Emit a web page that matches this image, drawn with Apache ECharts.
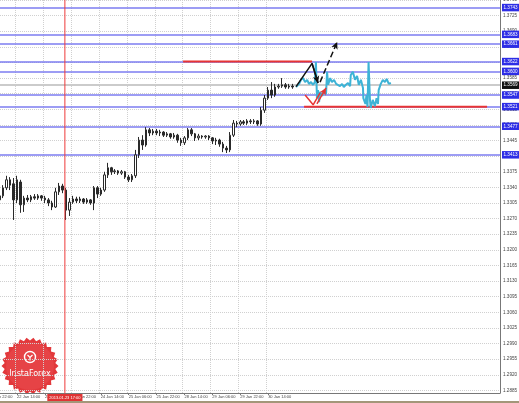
<!DOCTYPE html>
<html><head><meta charset="utf-8">
<script src="https://cdn.jsdelivr.net/npm/echarts@6/dist/echarts.min.js"></script>
<style>html,body{margin:0;padding:0;background:#fff;}#c{width:519px;height:403px;}</style>
</head><body><div id="c"></div>
<script>
// ---- data ----
const slotCount = 148;               // 2-hour slots on the time axis
const timeLabels = ['21 Jan 22:00','22 Jan 14:00','23 Jan 06:00','23 Jan 22:00','24 Jan 14:00','25 Jan 06:00','25 Jan 22:00','28 Jan 14:00','29 Jan 06:00','29 Jan 22:00','30 Jan 14:00'];
const firstLabelSlot = 1, labelEvery = 8;
const candleStartSlot = 4;
// [open, close, low, high]
const ohlc = [
[1.3312,1.3321,1.3305,1.3330],[1.3321,1.3339,1.3316,1.3345],[1.3339,1.3357,1.3334,1.3366],[1.3357,1.3345,1.3334,1.3363],
[1.3348,1.3312,1.3267,1.3361],[1.3312,1.3357,1.3305,1.3366],[1.3352,1.3301,1.3283,1.3357],[1.3301,1.3316,1.3285,1.3321],
[1.3316,1.3312,1.3307,1.3323],[1.3312,1.3319,1.3307,1.3323],[1.3319,1.3316,1.3312,1.3325],[1.3316,1.3321,1.3312,1.3325],
[1.3321,1.3316,1.3310,1.3323],[1.3316,1.3312,1.3305,1.3321],[1.3312,1.3305,1.3298,1.3316],[1.3305,1.3296,1.3289,1.3310],
[1.3296,1.3330,1.3294,1.3339],[1.3330,1.3343,1.3323,1.3350],[1.3343,1.3334,1.3327,1.3348],[1.3334,1.3289,1.3267,1.3339],
[1.3289,1.3307,1.3276,1.3316],[1.3307,1.3314,1.3303,1.3321],[1.3314,1.3310,1.3305,1.3319],[1.3310,1.3314,1.3305,1.3319],
[1.3314,1.3307,1.3303,1.3316],[1.3307,1.3312,1.3303,1.3316],[1.3312,1.3305,1.3301,1.3314],[1.3305,1.3339,1.3289,1.3343],
[1.3339,1.3325,1.3316,1.3343],[1.3325,1.3334,1.3321,1.3339],[1.3334,1.3368,1.3330,1.3375],[1.3368,1.3384,1.3361,1.3395],
[1.3384,1.3375,1.3368,1.3386],[1.3375,1.3377,1.3370,1.3381],[1.3377,1.3372,1.3368,1.3379],[1.3372,1.3375,1.3368,1.3379],
[1.3375,1.3363,1.3359,1.3377],[1.3363,1.3357,1.3352,1.3368],[1.3357,1.3366,1.3352,1.3370],[1.3366,1.3413,1.3361,1.3424],
[1.3413,1.3446,1.3406,1.3453],[1.3446,1.3435,1.3424,1.3457],[1.3435,1.3469,1.3431,1.3475],[1.3469,1.3462,1.3455,1.3473],
[1.3462,1.3466,1.3457,1.3471],[1.3466,1.3462,1.3457,1.3471],[1.3462,1.3464,1.3455,1.3469],[1.3464,1.3457,1.3453,1.3466],
[1.3457,1.3460,1.3453,1.3464],[1.3460,1.3453,1.3449,1.3462],[1.3453,1.3457,1.3449,1.3462],[1.3457,1.3446,1.3440,1.3460],
[1.3446,1.3440,1.3433,1.3451],[1.3440,1.3451,1.3435,1.3455],[1.3451,1.3469,1.3446,1.3473],[1.3469,1.3460,1.3455,1.3473],
[1.3460,1.3451,1.3444,1.3462],[1.3451,1.3455,1.3446,1.3460],[1.3455,1.3453,1.3449,1.3457],[1.3453,1.3455,1.3449,1.3457],
[1.3455,1.3451,1.3446,1.3457],[1.3451,1.3444,1.3437,1.3453],[1.3444,1.3446,1.3435,1.3451],[1.3446,1.3437,1.3431,1.3449],
[1.3437,1.3428,1.3419,1.3442],[1.3428,1.3424,1.3417,1.3433],[1.3424,1.3457,1.3419,1.3464],[1.3457,1.3484,1.3453,1.3491],
[1.3484,1.3482,1.3475,1.3489],[1.3482,1.3487,1.3478,1.3491],[1.3487,1.3484,1.3480,1.3491],[1.3484,1.3489,1.3480,1.3493],
[1.3489,1.3487,1.3482,1.3493],[1.3487,1.3489,1.3482,1.3493],[1.3489,1.3482,1.3478,1.3491],[1.3482,1.3513,1.3478,1.3520],
[1.3513,1.3540,1.3507,1.3547],[1.3540,1.3558,1.3536,1.3565],[1.3558,1.3547,1.3540,1.3576],[1.3547,1.3565,1.3543,1.3572],
[1.3565,1.3567,1.3561,1.3572],[1.3567,1.3570,1.3563,1.3585],[1.3570,1.3565,1.3561,1.3574],[1.3565,1.3567,1.3561,1.3572],
[1.3567,1.3565,1.3561,1.3572]
];
// drawn continuation (slot position, price)
const cyanPath = [[89.0,1.3565],[89.9,1.3572],[90.4,1.3581],[91.0,1.3585],[91.6,1.3576],[92.2,1.3581],[92.7,1.3572],[93.3,1.3576],
[93.9,1.3570],[94.4,1.3576],[94.7,1.3621],[95.0,1.3540],[95.3,1.3558],[95.6,1.3531],[95.9,1.3554],[96.5,1.3545],[97.0,1.3558],
[97.6,1.3549],[97.9,1.3599],[98.2,1.3570],[98.8,1.3585],[99.3,1.3576],[99.9,1.3581],[100.5,1.3572],[101.0,1.3574],[101.6,1.3567],
[102.2,1.3572],[102.7,1.3565],[103.3,1.3570],[103.9,1.3574],[104.5,1.3567],[104.7,1.3592],[105.3,1.3599],[105.9,1.3581],
[106.5,1.3590],[107.0,1.3570],[107.6,1.3581],[108.2,1.3563],[108.3,1.3540],[108.9,1.3527],[109.2,1.3547],[109.5,1.3520],
[109.8,1.3621],[110.2,1.3536],[110.4,1.3518],[111.0,1.3536],[111.6,1.3522],[112.1,1.3540],[112.5,1.3527],[112.7,1.3558],
[113.3,1.3572],[113.9,1.3581],[114.5,1.3576],[115.0,1.3583],[115.6,1.3572],[116.2,1.3574]];
const blueLevels = [1.3743,1.3683,1.3661,1.3622,1.3600,1.3547,1.3521,1.3477,1.3413];
const redLevels = [{price:1.3622, from:56.6, to:93.6},{price:1.3521, from:91.3, to:143.8}];
const bidPrice = 1.3569;
const markerSlot = 22.7, markerLabel = '2013.01.23 17:00';
const blackPath = [[89.0,1.3566],[93.6,1.3618],[95.3,1.3574]];
const blackDashed = [[95.9,1.3576],[100.8,1.3666]];
const redPath = [[91.6,1.3547],[93.9,1.3525],[95.9,1.3552]];
const redArrow = [[95.0,1.3527],[97.6,1.3563]];
const yMin = 1.2850, yMax = 1.3760, yStep = 0.0035, frameBottomPrice = 1.2878;

// ---- build ----
const slots = Array.from({length: slotCount}, (_, i) => String(i));
const labelAt = {};
timeLabels.forEach((t, i) => { labelAt[firstLabelSlot + i * labelEvery] = t; });
const isLabel = (i) => labelAt[i] !== undefined;
const candleData = new Array(slotCount).fill('-');
ohlc.forEach((d, i) => { candleData[candleStartSlot + i] = d; });

const FONT = 'Liberation Sans';
const BLUE = '#7c7cf0';
const RED = '#e83434';
const blueLabel = {show: true, position: 'end', distance: 2, formatter: p => Number(p.value).toFixed(4),
  backgroundColor: '#2d2de6', color: '#fff', fontSize: 4.6, padding: [1.5, 1.5, 1, 1.5], fontFamily: FONT};

const arrowSeg = (pts, color, type) => {
  const ls = {color, width: 1.5, type};
  return [
    {coord: pts[pts.length - 2], symbol: 'none', lineStyle: ls, label: {show: false}},
    {coord: pts[pts.length - 1], symbol: 'arrow', symbolSize: [5, 7], lineStyle: ls, label: {show: false}}
  ];
};
const markerStyle = {color: '#ee3a3a', width: 1, type: 'solid'};

// logo polygon (decoration)
const lcx = 30, lcy = 366, teeth = 26;
const logoPts = [];
for (let i = 0; i < teeth * 2; i++) {
  const r = i % 2 ? 25.5 : 28.5, a = i * Math.PI / teeth;
  logoPts.push([lcx + r * Math.cos(a), lcy + r * Math.sin(a)]);
}

const chart = echarts.init(document.getElementById('c'), null, {renderer: 'canvas'});
chart.setOption({
  animation: false,
  backgroundColor: '#ffffff',
  grid: [
    {left: -16, right: 19, top: 0, bottom: -3, outerBoundsMode: 'none', containLabel: false},
    {left: -16, right: 19, top: 0, bottom: 10, outerBoundsMode: 'none', containLabel: false}
  ],
  xAxis: [
    {type: 'category', gridIndex: 0, data: slots, boundaryGap: true, show: false},
    {type: 'value', gridIndex: 0, min: -0.5, max: slotCount - 0.5, show: false},
    {type: 'category', gridIndex: 1, data: slots, boundaryGap: true,
      axisLine: {show: true, lineStyle: {color: '#777', width: 1}},
      axisTick: {show: true, length: 2, alignWithLabel: true, interval: (i) => isLabel(i), lineStyle: {color: '#777'}},
      axisLabel: {show: true, interval: (i) => isLabel(i), formatter: (v, i) => labelAt[i] || '', align: 'left',
        fontSize: 4, color: '#444', margin: 1.5, fontFamily: FONT, showMinLabel: true},
      splitLine: {show: true, interval: (i) => isLabel(i), lineStyle: {color: '#d0d0d0', type: 'dotted'}}
    }
  ],
  yAxis: [
    {type: 'value', gridIndex: 0, position: 'right', min: yMin, max: yMax, interval: yStep, scale: true,
      axisLine: {show: false}, axisTick: {show: true, length: 2, lineStyle: {color: '#777'}},
      axisLabel: {show: true, formatter: v => v.toFixed(4), fontSize: 4.6, color: '#444', margin: 3, fontFamily: FONT},
      splitLine: {show: true, lineStyle: {color: '#d0d0d0', type: 'dotted'}}
    },
    {type: 'value', gridIndex: 1, position: 'right', min: 0, max: 1,
      axisLine: {show: true, lineStyle: {color: '#777', width: 1}}, axisTick: {show: false},
      axisLabel: {show: false}, splitLine: {show: false}
    }
  ],
  series: [
    {type: 'candlestick', xAxisIndex: 0, yAxisIndex: 0, data: candleData, barWidth: 2, z: 2,
      itemStyle: {color: '#ffffff', color0: '#2a2a2a', borderColor: '#2a2a2a', borderColor0: '#2a2a2a', borderWidth: 1},
      markLine: {silent: true, symbol: ['none', 'none'], animation: false, precision: 4, z: 1,
        data: [
          ...blueLevels.map(v => ({yAxis: v, lineStyle: {color: BLUE, width: 1.5, type: 'solid'}, label: blueLabel})),
          {yAxis: bidPrice, lineStyle: {color: '#cbcbcb', width: 2, type: 'solid'},
            label: Object.assign({}, blueLabel, {backgroundColor: '#111'})}
        ]
      }
    },
    ...redLevels.map(r => ({type: 'line', xAxisIndex: 1, yAxisIndex: 0, symbol: 'none', silent: true,
      data: [[r.from, r.price], [r.to, r.price]], lineStyle: {color: RED, width: 2}, z: 8})),
    {type: 'line', xAxisIndex: 1, yAxisIndex: 0, symbol: 'none', silent: true, data: cyanPath,
      lineStyle: {color: '#3db3d6', width: 2}, z: 9,
      markLine: {silent: true, animation: false, precision: 4, z: 10,
        data: [
          arrowSeg(blackPath, '#111', 'solid'),
          arrowSeg(blackDashed, '#111', 'dashed'),
          arrowSeg(redArrow, RED, 'solid')
        ]
      }
    },
    {type: 'line', xAxisIndex: 1, yAxisIndex: 0, symbol: 'none', silent: true, data: blackPath,
      lineStyle: {color: '#111', width: 1.5}, z: 10},
    {type: 'line', xAxisIndex: 1, yAxisIndex: 0, symbol: 'none', silent: true, data: redPath,
      lineStyle: {color: RED, width: 1.5}, z: 10},
    {type: 'line', xAxisIndex: 1, yAxisIndex: 0, symbol: 'none', silent: true,
      data: [[markerSlot, frameBottomPrice], [markerSlot, yMax]], lineStyle: markerStyle, z: 5,
      markPoint: {silent: true, symbol: 'rect', symbolSize: 0.1, animation: false,
        data: [{coord: [markerSlot, frameBottomPrice], label: {show: true, position: 'bottom', distance: 0.5,
          formatter: markerLabel, backgroundColor: '#e03434', color: '#fff', fontSize: 4, padding: [2, 2, 1.5, 2], fontFamily: FONT}}]}
    }
  ],
  graphic: [
    {type: 'rect', shape: {x: 0, y: 401, width: 519, height: 2}, style: {fill: '#a39679'}, z: 50, silent: true},
    {type: 'group', z: 60, silent: true, children: [
      {type: 'polygon', shape: {points: logoPts}, style: {fill: '#e2383b'}},
      {type: 'circle', shape: {cx: lcx, cy: lcy, r: 24}, style: {fill: '#e64346'}},
      {type: 'circle', shape: {cx: lcx, cy: lcy - 9, r: 5.5}, style: {fill: 'none', stroke: '#fff', lineWidth: 1.4}},
      {type: 'polyline', shape: {points: [[lcx - 2.5, lcy - 11], [lcx, lcy - 8.5], [lcx + 2.5, lcy - 11]]}, style: {stroke: '#fff', lineWidth: 1.2, fill: 'none'}},
      {type: 'line', shape: {x1: lcx, y1: lcy - 8.5, x2: lcx, y2: lcy - 5.5}, style: {stroke: '#fff', lineWidth: 1.2}},
      {type: 'text', x: lcx, y: lcy + 8, style: {text: 'InstaForex', fill: '#fff', fontSize: 8, fontFamily: 'DejaVu Sans', align: 'center', verticalAlign: 'middle'}}
    ]}
  ]
});
</script></body></html>
